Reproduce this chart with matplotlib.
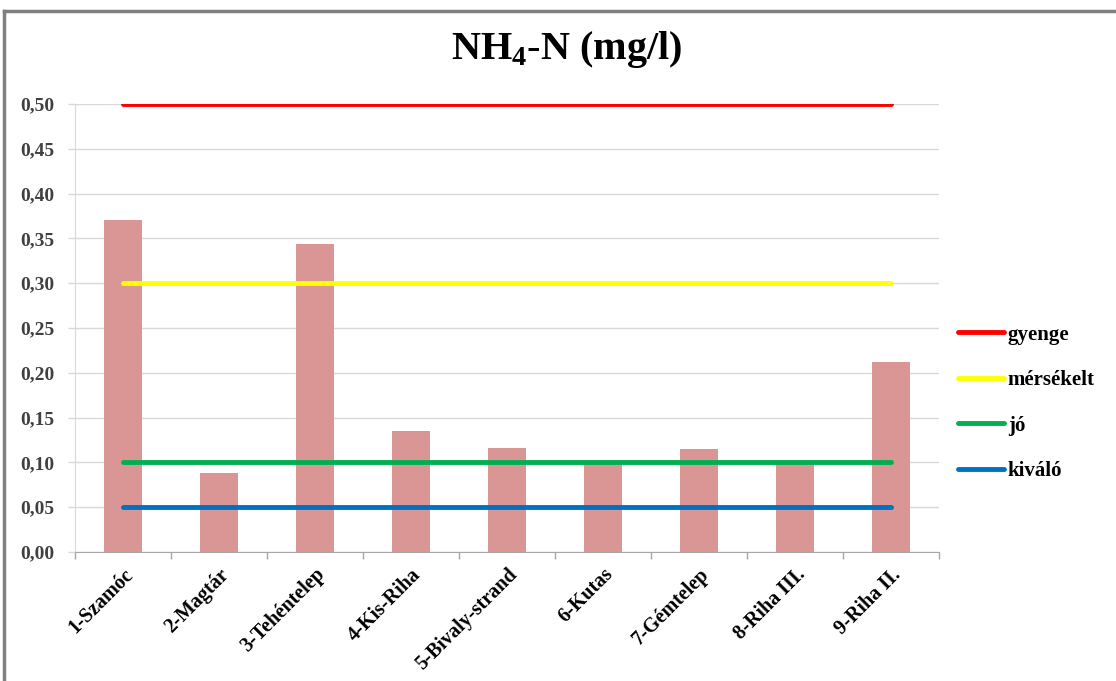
import matplotlib
matplotlib.use("Agg")
import matplotlib.pyplot as plt
from matplotlib.lines import Line2D
import numpy as np

# Sampling sites and measured ammonium-nitrogen (mg/l)
sites = ["1-Szamóc", "2-Magtár", "3-Tehéntelep", "4-Kis-Riha", "5-Bivaly-strand",
         "6-Kutas", "7-Gémtelep", "8-Riha III.", "9-Riha II."]
nh4_n = [0.370, 0.088, 0.344, 0.135, 0.116, 0.099, 0.115, 0.099, 0.212]

# Water-quality class limits (mg/l)
class_names = ["gyenge", "mérsékelt", "jó", "kiváló"]
class_limits = [0.50, 0.30, 0.10, 0.05]
class_colors = ["#FF0000", "#FFFF00", "#00B050", "#0070C0"]

yticks = [0.00, 0.05, 0.10, 0.15, 0.20, 0.25, 0.30, 0.35, 0.40, 0.45, 0.50]

plt.rcParams["font.family"] = ["Liberation Serif", "DejaVu Serif"]
plt.rcParams["mathtext.fontset"] = "custom"
plt.rcParams["mathtext.rm"] = "Liberation Serif"
plt.rcParams["mathtext.bf"] = "Liberation Serif:bold"

fig = plt.figure(figsize=(11.16, 6.81), dpi=100)
ax = fig.add_axes([75 / 1116, 1 - 552 / 681, 864 / 1116, 448 / 681])

x = np.arange(len(sites))
ax.bar(x, nh4_n, width=0.4, color="#D99694", zorder=2)

for name, lim, col in zip(class_names, class_limits, class_colors):
    ax.plot(x, [lim] * len(x), color=col, lw=3.5, solid_capstyle="round",
            label=name, zorder=3)

ax.set_xlim(-0.5, len(sites) - 0.5)
ax.set_ylim(0, 0.5)
ax.set_yticks(yticks)
ax.set_yticklabels([f"{v:.2f}".replace(".", ",") for v in yticks],
                   fontsize=14, fontweight="bold", color="#404040")
ax.yaxis.grid(True, color="#D9D9D9", lw=1, zorder=0)
ax.set_axisbelow(True)

ax.set_xticks(x)
ax.set_xticklabels(sites, rotation=45, ha="right", rotation_mode="anchor",
                   fontsize=14.5, fontweight="bold", color="black")
ax.tick_params(axis="x", which="major", length=0, pad=9)
ax.set_xticks(np.arange(-0.5, len(sites)), minor=True)
ax.tick_params(axis="x", which="minor", length=5, color="#A6A6A6", width=1)
ax.tick_params(axis="y", length=5, color="#D9D9D9", width=1, pad=10)

for side in ("top", "right"):
    ax.spines[side].set_visible(False)
ax.spines["left"].set_color("#D9D9D9")
ax.spines["bottom"].set_color("#A6A6A6")

fig.text(567 / 1116, 1 - 50 / 681, r"NH$_\mathbf{4}$-N (mg/l)", ha="center",
         va="center", fontsize=29, fontweight="bold")

ax.legend(loc="upper left", bbox_to_anchor=(939 / 1116, 1 - 306 / 681),
          bbox_transform=fig.transFigure, frameon=False, handlelength=2.2,
          handletextpad=0.2, labelspacing=1.22,
          prop={"weight": "bold", "size": 15})

# outer frame
fig.add_artist(Line2D([4 / 1116, 1], [1 - 11 / 681] * 2, color="#808080", lw=2.5,
                      transform=fig.transFigure))
fig.add_artist(Line2D([4 / 1116] * 2, [0, 1 - 11 / 681], color="#808080", lw=2.5,
                      transform=fig.transFigure))

fig.savefig("out.png", dpi=100, facecolor="white")
